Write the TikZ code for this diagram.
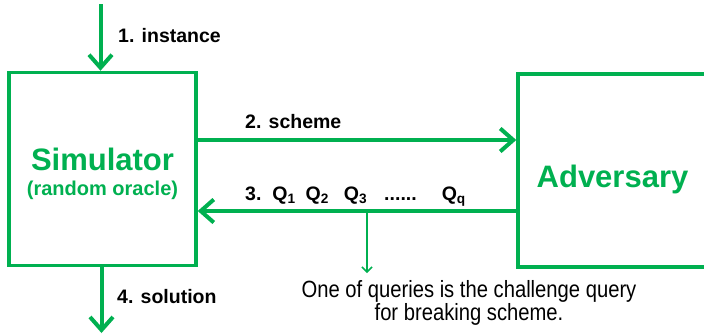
\documentclass[tikz,border=0pt]{standalone}
\usepackage{fontspec}
\setmainfont{Liberation Sans}
\newfontfamily\notefont[FakeStretch=0.86]{Liberation Sans}
\usepackage{xcolor}
\usetikzlibrary{arrows.meta, positioning, calc}
\definecolor{pptgreen}{RGB}{0,176,80}

\begin{document}
\begin{tikzpicture}[
    x=1pt, y=-1pt,
    party/.style={draw=pptgreen, line width=3.5pt, minimum height=193pt, inner sep=0pt},
    flow/.style={draw=pptgreen, line width=4pt, -{Straight Barb[length=13pt, width=23pt]}},
    hint/.style={draw=pptgreen, line width=1.5pt, -{Straight Barb[length=5pt, width=10pt]}},
    msglabel/.style={font=\fontsize{19.5}{23}\selectfont\bfseries, inner sep=0pt, anchor=base west},
    partyname/.style={font=\fontsize{31}{36}\selectfont\bfseries, text=pptgreen, inner sep=0pt, anchor=base},
    partysub/.style={font=\fontsize{20}{24}\selectfont\bfseries, text=pptgreen, inner sep=0pt, anchor=base},
    notetext/.style={font=\notefont\fontsize{23.5}{23}\selectfont, inner sep=0pt, anchor=base, align=center}
]
    \clip (0,0) rectangle (704,335);

    % the two parties
    \node[party, minimum width=187pt] (sim) at (102.5,169) {};
    \node[party, minimum width=194pt] (adv) at (615,170.5) {};
    \node[partyname] (simname) at (102.5,170) {Simulator};
    \node[partysub] (simsub) at (102.5,195) {(random oracle)};
    \node[partyname] (advname) at (612.5,187) {Adversary};

    % 1. instance
    \coordinate (instart) at (100.5,4);
    \draw[flow] (instart) -- (instart |- sim.north);
    \node[msglabel] (inlabel) at (118,42) {1. instance};

    % 2. scheme
    \draw[flow] (sim.east |- 0,140) -- (adv.west |- 0,140);
    \node[msglabel] (schlabel) at (245,128) {2. scheme};

    % 3. queries
    \draw[flow] (adv.west |- 0,211) -- (sim.east |- 0,211);
    \node[msglabel] (qlabel) at (245,200) {3.\hspace{11pt}Q\textsubscript{1}\hspace{10pt}Q\textsubscript{2}\hspace{15pt}Q\textsubscript{3}\hspace{17pt}......\hspace{25pt}Q\textsubscript{q}};
    \coordinate (qtap) at (367,211);
    \draw[hint] (qtap) -- ++(0,62);
    \node[notetext] (challenge) at (469,320) {One of queries is the challenge query\\for breaking scheme.};

    % 4. solution
    \coordinate (solend) at (101.5,333);
    \draw[flow] (solend |- sim.south) -- (solend);
    \node[msglabel] (sollabel) at (117,303) {4. solution};
\end{tikzpicture}
\end{document}
